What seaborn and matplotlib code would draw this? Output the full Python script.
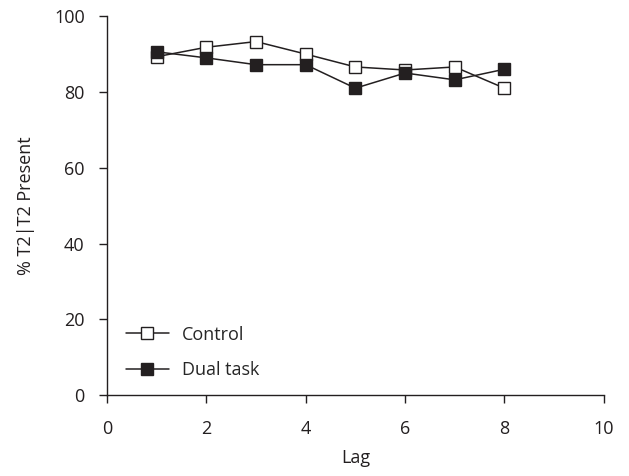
import numpy as np
import pandas as pd
import seaborn as sns
import matplotlib
matplotlib.use('Agg')
import matplotlib.pyplot as plt

lag = [1, 2, 3, 4, 5, 6, 7, 8]
control = [89.3, 91.8, 93.3, 90.0, 86.6, 85.8, 86.6, 81.0]
dual_task = [90.6, 89.0, 87.2, 87.2, 81.0, 85.0, 83.2, 86.0]

df = pd.DataFrame({
    'Lag': lag * 2,
    'Pct': control + dual_task,
    'Condition': ['Control'] * len(lag) + ['Dual task'] * len(lag),
})

sns.set_style('ticks')
plt.rcParams['font.family'] = ['Open Sans', 'DejaVu Sans']

fig = plt.figure(figsize=(6.29, 4.76), dpi=100)
ax = fig.add_axes([0.170, 0.170, 0.790, 0.796])

face = {'Control': 'white', 'Dual task': '#231f20'}
for cond in ['Control', 'Dual task']:
    sub = df[df['Condition'] == cond]
    sns.lineplot(data=sub, x='Lag', y='Pct', ax=ax, color='#231f20', lw=1.1,
                 marker='s', markersize=8.5, markerfacecolor=face[cond],
                 markeredgecolor='#231f20', markeredgewidth=1.0, label=cond)

ax.set_xlim(0, 10)
ax.set_ylim(0, 100)
ax.set_xticks([0, 2, 4, 6, 8, 10])
ax.set_yticks([0, 20, 40, 60, 80, 100])
ax.set_xlabel('Lag', fontsize=13, color='#231f20', labelpad=8)
ax.set_ylabel('% T2|T2 Present', fontsize=13, color='#231f20', labelpad=14)
ax.tick_params(labelsize=13, length=6, width=1, colors='#231f20', direction='out')
ax.tick_params(axis='x', pad=12)
ax.tick_params(axis='y', pad=10)
sns.despine(ax=ax)
for s in ['left', 'bottom']:
    ax.spines[s].set_color('#231f20')
    ax.spines[s].set_linewidth(1)

ax.legend(loc='lower left', frameon=False, fontsize=13, bbox_to_anchor=(0.005, 0.0),
          handlelength=2.4, labelspacing=0.95, handletextpad=0.7)

fig.savefig('out.png', dpi=100)
